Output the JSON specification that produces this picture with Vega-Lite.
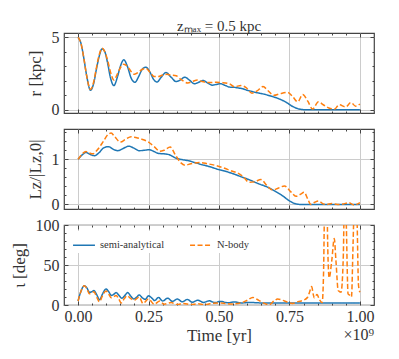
{
"$schema":"https://vega.github.io/schema/vega-lite/v6.json",
"padding":{"left":9,"top":18,"right":5,"bottom":5},
"background":"white",
"config":{
 "view":{"stroke":"#444","strokeWidth":1.2},
 "axis":{"domain":false,"tickColor":"#444","tickWidth":1,"labelFont":"Liberation Serif","labelFontSize":16,"labelColor":"#333","titleFont":"Liberation Serif","titleFontSize":17,"titleFontWeight":"normal","titleColor":"#333","gridColor":"#cccccc","gridWidth":1,"labelPadding":9,"titlePadding":7},
 "legend":{"orient":"top-left","direction":"horizontal","title":null,"symbolType":"stroke","symbolSize":480,"symbolStrokeWidth":1.5,"labelFont":"Liberation Serif","labelFontSize":10.5,"labelColor":"#333","columnPadding":22,"offset":6,"padding":2,"fillColor":"white"},
 "title":{"font":"Liberation Serif","fontSize":15,"fontWeight":"normal","color":"#333","offset":-5},
 "line":{"interpolate":"monotone"}
},
"datasets":{
 "r":[
  {"t":0,"s":"semi-analytical","v":5.0},{"t":0.01,"s":"semi-analytical","v":4.6},{"t":0.02,"s":"semi-analytical","v":3.6},{"t":0.03,"s":"semi-analytical","v":2.4},{"t":0.044,"s":"semi-analytical","v":1.35},{"t":0.055,"s":"semi-analytical","v":1.8},{"t":0.065,"s":"semi-analytical","v":2.8},{"t":0.075,"s":"semi-analytical","v":3.7},{"t":0.085,"s":"semi-analytical","v":4.2},{"t":0.095,"s":"semi-analytical","v":4.0},{"t":0.105,"s":"semi-analytical","v":3.2},{"t":0.115,"s":"semi-analytical","v":2.2},{"t":0.127,"s":"semi-analytical","v":1.67},{"t":0.14,"s":"semi-analytical","v":2.3},{"t":0.15,"s":"semi-analytical","v":3.0},{"t":0.162,"s":"semi-analytical","v":3.45},{"t":0.175,"s":"semi-analytical","v":3.0},{"t":0.188,"s":"semi-analytical","v":2.2},{"t":0.202,"s":"semi-analytical","v":1.9},{"t":0.215,"s":"semi-analytical","v":2.3},{"t":0.228,"s":"semi-analytical","v":2.8},{"t":0.241,"s":"semi-analytical","v":2.94},{"t":0.255,"s":"semi-analytical","v":2.6},{"t":0.268,"s":"semi-analytical","v":2.1},{"t":0.28,"s":"semi-analytical","v":1.92},{"t":0.295,"s":"semi-analytical","v":2.25},{"t":0.312,"s":"semi-analytical","v":2.57},{"t":0.33,"s":"semi-analytical","v":2.25},{"t":0.348,"s":"semi-analytical","v":1.95},{"t":0.362,"s":"semi-analytical","v":2.05},{"t":0.379,"s":"semi-analytical","v":2.25},{"t":0.395,"s":"semi-analytical","v":2.05},{"t":0.413,"s":"semi-analytical","v":1.8},{"t":0.428,"s":"semi-analytical","v":1.9},{"t":0.443,"s":"semi-analytical","v":2.02},{"t":0.46,"s":"semi-analytical","v":1.85},{"t":0.477,"s":"semi-analytical","v":1.7},{"t":0.49,"s":"semi-analytical","v":1.75},{"t":0.505,"s":"semi-analytical","v":1.8},{"t":0.52,"s":"semi-analytical","v":1.7},{"t":0.537,"s":"semi-analytical","v":1.57},{"t":0.555,"s":"semi-analytical","v":1.55},{"t":0.57,"s":"semi-analytical","v":1.5},{"t":0.585,"s":"semi-analytical","v":1.45},{"t":0.6,"s":"semi-analytical","v":1.35},{"t":0.62,"s":"semi-analytical","v":1.25},{"t":0.643,"s":"semi-analytical","v":1.15},{"t":0.66,"s":"semi-analytical","v":1.08},{"t":0.68,"s":"semi-analytical","v":0.97},{"t":0.7,"s":"semi-analytical","v":0.85},{"t":0.72,"s":"semi-analytical","v":0.7},{"t":0.74,"s":"semi-analytical","v":0.5},{"t":0.755,"s":"semi-analytical","v":0.3},{"t":0.77,"s":"semi-analytical","v":0.15},{"t":0.785,"s":"semi-analytical","v":0.05},{"t":0.8,"s":"semi-analytical","v":0.01},{"t":0.82,"s":"semi-analytical","v":0},{"t":1.0,"s":"semi-analytical","v":0},
  {"t":0,"s":"N-body","v":5.0},{"t":0.01,"s":"N-body","v":4.6},{"t":0.02,"s":"N-body","v":3.6},{"t":0.03,"s":"N-body","v":2.4},{"t":0.044,"s":"N-body","v":1.4},{"t":0.055,"s":"N-body","v":1.9},{"t":0.065,"s":"N-body","v":2.9},{"t":0.075,"s":"N-body","v":3.8},{"t":0.085,"s":"N-body","v":4.25},{"t":0.095,"s":"N-body","v":4.0},{"t":0.105,"s":"N-body","v":3.4},{"t":0.115,"s":"N-body","v":2.6},{"t":0.127,"s":"N-body","v":2.05},{"t":0.14,"s":"N-body","v":2.5},{"t":0.15,"s":"N-body","v":2.9},{"t":0.162,"s":"N-body","v":3.15},{"t":0.175,"s":"N-body","v":3.0},{"t":0.188,"s":"N-body","v":2.65},{"t":0.2,"s":"N-body","v":2.45},{"t":0.215,"s":"N-body","v":2.6},{"t":0.228,"s":"N-body","v":2.8},{"t":0.241,"s":"N-body","v":2.85},{"t":0.255,"s":"N-body","v":2.6},{"t":0.27,"s":"N-body","v":2.3},{"t":0.285,"s":"N-body","v":2.3},{"t":0.3,"s":"N-body","v":2.4},{"t":0.315,"s":"N-body","v":2.45},{"t":0.33,"s":"N-body","v":2.4},{"t":0.348,"s":"N-body","v":2.35},{"t":0.365,"s":"N-body","v":2.1},{"t":0.389,"s":"N-body","v":1.85},{"t":0.405,"s":"N-body","v":1.95},{"t":0.424,"s":"N-body","v":2.05},{"t":0.44,"s":"N-body","v":1.95},{"t":0.465,"s":"N-body","v":1.88},{"t":0.49,"s":"N-body","v":1.9},{"t":0.51,"s":"N-body","v":1.88},{"t":0.537,"s":"N-body","v":1.8},{"t":0.554,"s":"N-body","v":1.6},{"t":0.578,"s":"N-body","v":1.67},{"t":0.595,"s":"N-body","v":1.55},{"t":0.617,"s":"N-body","v":1.15},{"t":0.635,"s":"N-body","v":1.3},{"t":0.656,"s":"N-body","v":1.6},{"t":0.675,"s":"N-body","v":1.3},{"t":0.695,"s":"N-body","v":1.0},{"t":0.715,"s":"N-body","v":1.1},{"t":0.744,"s":"N-body","v":1.2},{"t":0.762,"s":"N-body","v":0.9},{"t":0.779,"s":"N-body","v":0.55},{"t":0.797,"s":"N-body","v":1.05},{"t":0.815,"s":"N-body","v":0.6},{"t":0.832,"s":"N-body","v":0.05},{"t":0.853,"s":"N-body","v":0.55},{"t":0.87,"s":"N-body","v":0.35},{"t":0.89,"s":"N-body","v":0.12},{"t":0.91,"s":"N-body","v":0.05},{"t":0.926,"s":"N-body","v":0.35},{"t":0.95,"s":"N-body","v":0.2},{"t":0.968,"s":"N-body","v":0.5},{"t":0.985,"s":"N-body","v":0.25},{"t":1.0,"s":"N-body","v":0.4}
 ],
 "L":[
  {"t":0,"s":"semi-analytical","v":1.0},{"t":0.015,"s":"semi-analytical","v":1.1},{"t":0.028,"s":"semi-analytical","v":1.15},{"t":0.045,"s":"semi-analytical","v":1.1},{"t":0.058,"s":"semi-analytical","v":1.08},{"t":0.075,"s":"semi-analytical","v":1.15},{"t":0.09,"s":"semi-analytical","v":1.25},{"t":0.108,"s":"semi-analytical","v":1.28},{"t":0.125,"s":"semi-analytical","v":1.22},{"t":0.141,"s":"semi-analytical","v":1.19},{"t":0.16,"s":"semi-analytical","v":1.24},{"t":0.18,"s":"semi-analytical","v":1.29},{"t":0.2,"s":"semi-analytical","v":1.24},{"t":0.217,"s":"semi-analytical","v":1.19},{"t":0.235,"s":"semi-analytical","v":1.2},{"t":0.253,"s":"semi-analytical","v":1.21},{"t":0.27,"s":"semi-analytical","v":1.17},{"t":0.285,"s":"semi-analytical","v":1.13},{"t":0.305,"s":"semi-analytical","v":1.12},{"t":0.324,"s":"semi-analytical","v":1.1},{"t":0.345,"s":"semi-analytical","v":1.03},{"t":0.371,"s":"semi-analytical","v":0.99},{"t":0.39,"s":"semi-analytical","v":0.97},{"t":0.413,"s":"semi-analytical","v":0.93},{"t":0.44,"s":"semi-analytical","v":0.88},{"t":0.46,"s":"semi-analytical","v":0.85},{"t":0.49,"s":"semi-analytical","v":0.79},{"t":0.52,"s":"semi-analytical","v":0.74},{"t":0.55,"s":"semi-analytical","v":0.68},{"t":0.58,"s":"semi-analytical","v":0.61},{"t":0.61,"s":"semi-analytical","v":0.54},{"t":0.64,"s":"semi-analytical","v":0.46},{"t":0.67,"s":"semi-analytical","v":0.39},{"t":0.7,"s":"semi-analytical","v":0.29},{"t":0.726,"s":"semi-analytical","v":0.19},{"t":0.75,"s":"semi-analytical","v":0.08},{"t":0.765,"s":"semi-analytical","v":0.03},{"t":0.78,"s":"semi-analytical","v":0.005},{"t":0.8,"s":"semi-analytical","v":0},{"t":1.0,"s":"semi-analytical","v":0},
  {"t":0,"s":"N-body","v":1.0},{"t":0.015,"s":"N-body","v":1.12},{"t":0.028,"s":"N-body","v":1.17},{"t":0.04,"s":"N-body","v":1.14},{"t":0.052,"s":"N-body","v":1.12},{"t":0.07,"s":"N-body","v":1.22},{"t":0.09,"s":"N-body","v":1.4},{"t":0.105,"s":"N-body","v":1.54},{"t":0.117,"s":"N-body","v":1.58},{"t":0.13,"s":"N-body","v":1.5},{"t":0.15,"s":"N-body","v":1.38},{"t":0.17,"s":"N-body","v":1.45},{"t":0.188,"s":"N-body","v":1.5},{"t":0.205,"s":"N-body","v":1.48},{"t":0.223,"s":"N-body","v":1.45},{"t":0.25,"s":"N-body","v":1.38},{"t":0.27,"s":"N-body","v":1.28},{"t":0.29,"s":"N-body","v":1.18},{"t":0.305,"s":"N-body","v":1.2},{"t":0.327,"s":"N-body","v":1.27},{"t":0.345,"s":"N-body","v":1.1},{"t":0.365,"s":"N-body","v":0.92},{"t":0.38,"s":"N-body","v":0.87},{"t":0.4,"s":"N-body","v":0.9},{"t":0.43,"s":"N-body","v":0.93},{"t":0.46,"s":"N-body","v":0.9},{"t":0.49,"s":"N-body","v":0.86},{"t":0.52,"s":"N-body","v":0.8},{"t":0.545,"s":"N-body","v":0.74},{"t":0.565,"s":"N-body","v":0.7},{"t":0.585,"s":"N-body","v":0.62},{"t":0.607,"s":"N-body","v":0.49},{"t":0.625,"s":"N-body","v":0.5},{"t":0.649,"s":"N-body","v":0.55},{"t":0.67,"s":"N-body","v":0.42},{"t":0.69,"s":"N-body","v":0.32},{"t":0.71,"s":"N-body","v":0.36},{"t":0.732,"s":"N-body","v":0.41},{"t":0.755,"s":"N-body","v":0.28},{"t":0.773,"s":"N-body","v":0.18},{"t":0.79,"s":"N-body","v":0.23},{"t":0.802,"s":"N-body","v":0.27},{"t":0.815,"s":"N-body","v":0.12},{"t":0.826,"s":"N-body","v":0.0},{"t":0.84,"s":"N-body","v":0.05},{"t":0.853,"s":"N-body","v":0.08},{"t":0.868,"s":"N-body","v":0.02},{"t":0.88,"s":"N-body","v":0.0},{"t":0.9,"s":"N-body","v":0.02},{"t":0.92,"s":"N-body","v":0.0},{"t":0.94,"s":"N-body","v":0.01},{"t":0.96,"s":"N-body","v":0.04},{"t":0.98,"s":"N-body","v":-0.01},{"t":1.0,"s":"N-body","v":0.04}
 ],
 "i":[
  {"t":0,"s":"semi-analytical","v":5},{"t":0.01,"s":"semi-analytical","v":17},{"t":0.022,"s":"semi-analytical","v":24},{"t":0.032,"s":"semi-analytical","v":21},{"t":0.04,"s":"semi-analytical","v":16},{"t":0.048,"s":"semi-analytical","v":16.5},{"t":0.056,"s":"semi-analytical","v":18},{"t":0.066,"s":"semi-analytical","v":13},{"t":0.076,"s":"semi-analytical","v":6.5},{"t":0.087,"s":"semi-analytical","v":14},{"t":0.099,"s":"semi-analytical","v":20},{"t":0.108,"s":"semi-analytical","v":17},{"t":0.118,"s":"semi-analytical","v":12},{"t":0.127,"s":"semi-analytical","v":13.5},{"t":0.135,"s":"semi-analytical","v":15.5},{"t":0.145,"s":"semi-analytical","v":12},{"t":0.155,"s":"semi-analytical","v":8.5},{"t":0.166,"s":"semi-analytical","v":12},{"t":0.176,"s":"semi-analytical","v":15.5},{"t":0.187,"s":"semi-analytical","v":11},{"t":0.198,"s":"semi-analytical","v":7.5},{"t":0.208,"s":"semi-analytical","v":10},{"t":0.217,"s":"semi-analytical","v":12.5},{"t":0.228,"s":"semi-analytical","v":9},{"t":0.238,"s":"semi-analytical","v":7},{"t":0.25,"s":"semi-analytical","v":11.5},{"t":0.262,"s":"semi-analytical","v":8.5},{"t":0.272,"s":"semi-analytical","v":5.5},{"t":0.285,"s":"semi-analytical","v":9.5},{"t":0.3,"s":"semi-analytical","v":5},{"t":0.318,"s":"semi-analytical","v":8.5},{"t":0.335,"s":"semi-analytical","v":4.5},{"t":0.352,"s":"semi-analytical","v":7.5},{"t":0.37,"s":"semi-analytical","v":4},{"t":0.388,"s":"semi-analytical","v":7},{"t":0.405,"s":"semi-analytical","v":3.5},{"t":0.425,"s":"semi-analytical","v":6},{"t":0.445,"s":"semi-analytical","v":3.2},{"t":0.465,"s":"semi-analytical","v":5.2},{"t":0.485,"s":"semi-analytical","v":3},{"t":0.505,"s":"semi-analytical","v":4.5},{"t":0.53,"s":"semi-analytical","v":2.8},{"t":0.555,"s":"semi-analytical","v":3.8},{"t":0.58,"s":"semi-analytical","v":2.6},{"t":0.61,"s":"semi-analytical","v":3.2},{"t":0.65,"s":"semi-analytical","v":2.6},{"t":0.7,"s":"semi-analytical","v":2.6},{"t":1.0,"s":"semi-analytical","v":2.5},
  {"t":0,"s":"N-body","v":5},{"t":0.01,"s":"N-body","v":17},{"t":0.022,"s":"N-body","v":24},{"t":0.032,"s":"N-body","v":20},{"t":0.04,"s":"N-body","v":14},{"t":0.048,"s":"N-body","v":15},{"t":0.056,"s":"N-body","v":16.5},{"t":0.066,"s":"N-body","v":10},{"t":0.076,"s":"N-body","v":4},{"t":0.087,"s":"N-body","v":12},{"t":0.099,"s":"N-body","v":17.5},{"t":0.108,"s":"N-body","v":14},{"t":0.118,"s":"N-body","v":9},{"t":0.127,"s":"N-body","v":10.5},{"t":0.135,"s":"N-body","v":12},{"t":0.145,"s":"N-body","v":7},{"t":0.153,"s":"N-body","v":2.5},{"t":0.164,"s":"N-body","v":8},{"t":0.174,"s":"N-body","v":11.5},{"t":0.187,"s":"N-body","v":8},{"t":0.2,"s":"N-body","v":6},{"t":0.208,"s":"N-body","v":8},{"t":0.217,"s":"N-body","v":10},{"t":0.23,"s":"N-body","v":2},{"t":0.25,"s":"N-body","v":7.5},{"t":0.27,"s":"N-body","v":1},{"t":0.29,"s":"N-body","v":5},{"t":0.305,"s":"N-body","v":1},{"t":0.33,"s":"N-body","v":3},{"t":0.35,"s":"N-body","v":0.5},{"t":0.375,"s":"N-body","v":2},{"t":0.4,"s":"N-body","v":0.5},{"t":0.425,"s":"N-body","v":1.5},{"t":0.45,"s":"N-body","v":0.5},{"t":0.475,"s":"N-body","v":2},{"t":0.507,"s":"N-body","v":2.5},{"t":0.543,"s":"N-body","v":1.3},{"t":0.578,"s":"N-body","v":2.5},{"t":0.6,"s":"N-body","v":6},{"t":0.62,"s":"N-body","v":9.5},{"t":0.64,"s":"N-body","v":6},{"t":0.655,"s":"N-body","v":3},{"t":0.678,"s":"N-body","v":0.3},{"t":0.695,"s":"N-body","v":5},{"t":0.708,"s":"N-body","v":7.5},{"t":0.725,"s":"N-body","v":6},{"t":0.744,"s":"N-body","v":3.4},{"t":0.761,"s":"N-body","v":2},{"t":0.78,"s":"N-body","v":4.2},{"t":0.802,"s":"N-body","v":6.3},{"t":0.815,"s":"N-body","v":10},{"t":0.822,"s":"N-body","v":17},{"t":0.829,"s":"N-body","v":23},{"t":0.834,"s":"N-body","v":14},{"t":0.838,"s":"N-body","v":9},{"t":0.848,"s":"N-body","v":13},{"t":0.856,"s":"N-body","v":7},{"t":0.866,"s":"N-body","v":3},{"t":0.871,"s":"N-body","v":40},{"t":0.876,"s":"N-body","v":150},{"t":0.882,"s":"N-body","v":150},{"t":0.886,"s":"N-body","v":70},{"t":0.891,"s":"N-body","v":34},{"t":0.9,"s":"N-body","v":55},{"t":0.909,"s":"N-body","v":83},{"t":0.915,"s":"N-body","v":55},{"t":0.923,"s":"N-body","v":18},{"t":0.933,"s":"N-body","v":16},{"t":0.941,"s":"N-body","v":60},{"t":0.946,"s":"N-body","v":150},{"t":0.951,"s":"N-body","v":110},{"t":0.958,"s":"N-body","v":14},{"t":0.965,"s":"N-body","v":12},{"t":0.97,"s":"N-body","v":10},{"t":0.976,"s":"N-body","v":80},{"t":0.982,"s":"N-body","v":150},{"t":0.989,"s":"N-body","v":120},{"t":0.995,"s":"N-body","v":25},{"t":1.0,"s":"N-body","v":16}
 ],
 "note":[{"lab":"×10⁹"}]
},
"spacing":16,
"bounds":"flush",
"resolve":{"scale":{"color":"independent","strokeDash":"independent"},"legend":{"color":"independent","strokeDash":"independent"}},
"vconcat":[
 {
  "width":310,"height":80,
  "title":{"text":"zₘₐₓ = 0.5 kpc"},
  "data":{"name":"r"},
  "layer":[
   {"mark":{"type":"line","strokeWidth":1.5,"clip":true},
    "encoding":{
     "x":{"field":"t","type":"quantitative","scale":{"domain":[-0.05,1.05],"nice":false,"zero":false},"axis":{"orient":"bottom","values":[0,0.25,0.5,0.75,1],"grid":true,"tickSize":-4,"labels":false,"title":null}},
     "y":{"field":"v","type":"quantitative","scale":{"domain":[-0.22,5.3],"nice":false,"zero":false},"axis":{"orient":"left","values":[0,5],"grid":true,"tickSize":-4,"title":"r [kpc]"}},
     "color":{"field":"s","type":"nominal","scale":{"domain":["semi-analytical","N-body"],"range":["#1f77b4","#ff7f0e"]},"legend":null},
     "strokeDash":{"field":"s","type":"nominal","scale":{"domain":["semi-analytical","N-body"],"range":[[1,0],[5,2.5]]},"legend":null}}},
   {"mark":{"type":"line","opacity":0},
    "encoding":{
     "x":{"field":"t","type":"quantitative","scale":{"domain":[-0.05,1.05],"nice":false,"zero":false},"axis":{"orient":"bottom","values":[0.05,0.1,0.15,0.2,0.3,0.35,0.4,0.45,0.55,0.6,0.65,0.7,0.8,0.85,0.9,0.95],"grid":false,"tickSize":-2,"labels":false,"title":null}},
     "y":{"field":"v","type":"quantitative","scale":{"domain":[-0.22,5.3],"nice":false,"zero":false},"axis":{"orient":"left","values":[1,2,3,4],"grid":false,"tickSize":-2,"labels":false,"title":null}}}},
   {"mark":{"type":"line","opacity":0},
    "encoding":{
     "x":{"field":"t","type":"quantitative","scale":{"domain":[-0.05,1.05],"nice":false,"zero":false},"axis":{"orient":"top","values":[0,0.25,0.5,0.75,1],"grid":false,"tickSize":-4,"labels":false,"title":null}},
     "y":{"field":"v","type":"quantitative","scale":{"domain":[-0.22,5.3],"nice":false,"zero":false},"axis":{"orient":"right","values":[0,5],"grid":false,"tickSize":-4,"labels":false,"title":null}}}},
   {"mark":{"type":"line","opacity":0},
    "encoding":{
     "x":{"field":"t","type":"quantitative","scale":{"domain":[-0.05,1.05],"nice":false,"zero":false},"axis":{"orient":"top","values":[0.05,0.1,0.15,0.2,0.3,0.35,0.4,0.45,0.55,0.6,0.65,0.7,0.8,0.85,0.9,0.95],"grid":false,"tickSize":-2,"labels":false,"title":null}},
     "y":{"field":"v","type":"quantitative","scale":{"domain":[-0.22,5.3],"nice":false,"zero":false},"axis":{"orient":"right","values":[1,2,3,4],"grid":false,"tickSize":-2,"labels":false,"title":null}}}}
  ],
  "resolve":{"axis":{"x":"independent","y":"independent"}}
 },
 {
  "width":310,"height":80,
  "data":{"name":"L"},
  "layer":[
   {"mark":{"type":"line","strokeWidth":1.5,"clip":true},
    "encoding":{
     "x":{"field":"t","type":"quantitative","scale":{"domain":[-0.05,1.05],"nice":false,"zero":false},"axis":{"orient":"bottom","values":[0,0.25,0.5,0.75,1],"grid":true,"tickSize":-4,"labels":false,"title":null}},
     "y":{"field":"v","type":"quantitative","scale":{"domain":[-0.1,1.67],"nice":false,"zero":false},"axis":{"orient":"left","values":[0,1],"grid":true,"tickSize":-4,"title":"Lz/|Lz,0|"}},
     "color":{"field":"s","type":"nominal","scale":{"domain":["semi-analytical","N-body"],"range":["#1f77b4","#ff7f0e"]},"legend":null},
     "strokeDash":{"field":"s","type":"nominal","scale":{"domain":["semi-analytical","N-body"],"range":[[1,0],[5,2.5]]},"legend":null}}},
   {"mark":{"type":"line","opacity":0},
    "encoding":{
     "x":{"field":"t","type":"quantitative","scale":{"domain":[-0.05,1.05],"nice":false,"zero":false},"axis":{"orient":"bottom","values":[0.05,0.1,0.15,0.2,0.3,0.35,0.4,0.45,0.55,0.6,0.65,0.7,0.8,0.85,0.9,0.95],"grid":false,"tickSize":-2,"labels":false,"title":null}},
     "y":{"field":"v","type":"quantitative","scale":{"domain":[-0.1,1.67],"nice":false,"zero":false},"axis":{"orient":"left","values":[0.2,0.4,0.6,0.8,1.2,1.4,1.6],"grid":false,"tickSize":-2,"labels":false,"title":null}}}},
   {"mark":{"type":"line","opacity":0},
    "encoding":{
     "x":{"field":"t","type":"quantitative","scale":{"domain":[-0.05,1.05],"nice":false,"zero":false},"axis":{"orient":"top","values":[0,0.25,0.5,0.75,1],"grid":false,"tickSize":-4,"labels":false,"title":null}},
     "y":{"field":"v","type":"quantitative","scale":{"domain":[-0.1,1.67],"nice":false,"zero":false},"axis":{"orient":"right","values":[0,1],"grid":false,"tickSize":-4,"labels":false,"title":null}}}},
   {"mark":{"type":"line","opacity":0},
    "encoding":{
     "x":{"field":"t","type":"quantitative","scale":{"domain":[-0.05,1.05],"nice":false,"zero":false},"axis":{"orient":"top","values":[0.05,0.1,0.15,0.2,0.3,0.35,0.4,0.45,0.55,0.6,0.65,0.7,0.8,0.85,0.9,0.95],"grid":false,"tickSize":-2,"labels":false,"title":null}},
     "y":{"field":"v","type":"quantitative","scale":{"domain":[-0.1,1.67],"nice":false,"zero":false},"axis":{"orient":"right","values":[0.2,0.4,0.6,0.8,1.2,1.4,1.6],"grid":false,"tickSize":-2,"labels":false,"title":null}}}}
  ],
  "resolve":{"axis":{"x":"independent","y":"independent"}}
 },
 {
  "width":310,"height":80,
  "layer":[
   {"data":{"name":"i"},
    "mark":{"type":"line","strokeWidth":1.5,"clip":true},
    "encoding":{
     "x":{"field":"t","type":"quantitative","scale":{"domain":[-0.05,1.05],"nice":false,"zero":false},"axis":{"orient":"bottom","values":[0,0.25,0.5,0.75,1],"grid":true,"tickSize":-4,"format":".2f","title":"Time [yr]","labelPadding":7,"titlePadding":3}},
     "y":{"field":"v","type":"quantitative","scale":{"domain":[0,100],"nice":false,"zero":false},"axis":{"orient":"left","values":[0,50,100],"grid":true,"tickSize":-4,"title":"ι [deg]"}},
     "color":{"field":"s","type":"nominal","scale":{"domain":["semi-analytical","N-body"],"range":["#1f77b4","#ff7f0e"]}},
     "strokeDash":{"field":"s","type":"nominal","scale":{"domain":["semi-analytical","N-body"],"range":[[1,0],[5,2.5]]}}}},
   {"data":{"name":"i"},
    "mark":{"type":"line","opacity":0},
    "encoding":{
     "x":{"field":"t","type":"quantitative","scale":{"domain":[-0.05,1.05],"nice":false,"zero":false},"axis":{"orient":"bottom","values":[0.05,0.1,0.15,0.2,0.3,0.35,0.4,0.45,0.55,0.6,0.65,0.7,0.8,0.85,0.9,0.95],"grid":false,"tickSize":-2,"labels":false,"title":null}},
     "y":{"field":"v","type":"quantitative","scale":{"domain":[0,100],"nice":false,"zero":false},"axis":{"orient":"left","values":[10,20,30,40,60,70,80,90],"grid":false,"tickSize":-2,"labels":false,"title":null}}}},
   {"data":{"name":"i"},
    "mark":{"type":"line","opacity":0},
    "encoding":{
     "x":{"field":"t","type":"quantitative","scale":{"domain":[-0.05,1.05],"nice":false,"zero":false},"axis":{"orient":"top","values":[0,0.25,0.5,0.75,1],"grid":false,"tickSize":-4,"labels":false,"title":null}},
     "y":{"field":"v","type":"quantitative","scale":{"domain":[0,100],"nice":false,"zero":false},"axis":{"orient":"right","values":[0,50,100],"grid":false,"tickSize":-4,"labels":false,"title":null}}}},
   {"data":{"name":"i"},
    "mark":{"type":"line","opacity":0},
    "encoding":{
     "x":{"field":"t","type":"quantitative","scale":{"domain":[-0.05,1.05],"nice":false,"zero":false},"axis":{"orient":"top","values":[0.05,0.1,0.15,0.2,0.3,0.35,0.4,0.45,0.55,0.6,0.65,0.7,0.8,0.85,0.9,0.95],"grid":false,"tickSize":-2,"labels":false,"title":null}},
     "y":{"field":"v","type":"quantitative","scale":{"domain":[0,100],"nice":false,"zero":false},"axis":{"orient":"right","values":[10,20,30,40,60,70,80,90],"grid":false,"tickSize":-2,"labels":false,"title":null}}}},
   {"data":{"name":"note"},
    "mark":{"type":"text","align":"right","baseline":"middle","dy":30,"font":"Liberation Serif","fontSize":16,"color":"#333","clip":false},
    "encoding":{
     "text":{"field":"lab"},
     "x":{"datum":1.05,"type":"quantitative","axis":null},
     "y":{"datum":0,"type":"quantitative","axis":null}}}
  ],
  "resolve":{"axis":{"x":"independent","y":"independent"}}
 }
]
}
